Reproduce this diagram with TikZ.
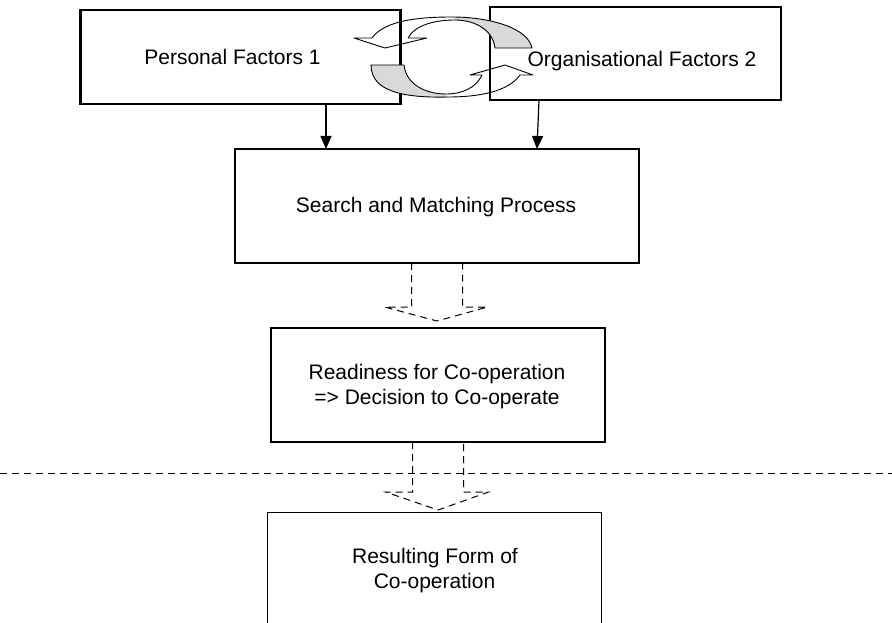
\documentclass[tikz,border=0pt]{standalone}
\usepackage{fontspec}
\setmainfont{Liberation Sans}
\usetikzlibrary{arrows.meta}

\begin{document}
\begin{tikzpicture}[x=1pt,y=-1pt,
  box/.style={draw, line width=2.4pt, inner sep=0pt, outer sep=0pt},
  txt/.style={font=\fontsize{21}{25}\selectfont, inner sep=0pt, anchor=base},
  flow/.style={line width=1.2pt, -{Triangle[width=11pt,length=13pt]}},
  dashline/.style={line width=1pt, dash pattern=on 7pt off 5pt},
  ribbon/.style={line width=0.9pt, line join=round},
  tailshade/.style={fill=gray!30},
  pics/blockdown/.style 2 args={code={
    \draw[dashline] (-25.5,0) -- (-25.5,#1) -- (-52.5,#1) -- (0,#2)
      -- (50.5,#1) -- (25.5,#1) -- (25.5,0) -- cycle;}}
]
\useasboundingbox (0,0) rectangle (892,623);
\fill[white] (0,0) rectangle (892,623);

% boxes
\node[box, minimum width=320pt, minimum height=94pt] (pf) at (240.5,57) {};
\node[box, minimum width=291pt, minimum height=93pt] (of) at (635.5,53.5) {};
\node[box, line width=2.8pt, minimum width=404pt, minimum height=114pt] (smp) at (437,206) {};
\node[box, minimum width=334pt, minimum height=114pt] (rc) at (438,385) {};
\node[inner sep=0pt, outer sep=0pt, minimum width=334pt, minimum height=111pt] (rf) at (434,567.5) {};
\draw[line width=1pt] (rf.south west) -- (rf.north west) -- (rf.north east) -- (rf.south east);

% labels
\node[txt] (pft) at (232.5,65) {Personal Factors 1};
\node[txt] (oft) at (642,67) {Organisational Factors 2};
\node[txt] (smpt) at (436,212.5) {Search and Matching Process};
\node[txt] (rct1) at (437,379) {Readiness for Co-operation};
\node[txt] (rct2) at (437,404) {=> Decision to Co-operate};
\node[txt] (rft1) at (435,563) {Resulting Form of};
\node[txt] (rft2) at (434.5,588) {Co-operation};

% solid connectors into the matching process
\draw[flow] ([xshift=85.5pt]pf.south) -- ([xshift=85.5pt]pf.south |- smp.north);
\draw[flow] ([xshift=-96.5pt]of.south) -- ([xshift=100pt]smp.north);

% dashed block arrows and the divider
\pic at (smp.south) {blockdown={44}{58}};
\pic at (rc.south) {blockdown={50}{68}};
\coordinate (divl) at (0,473);
\coordinate (divr) at (892,473);
\draw[dashline] (divl) -- (divr);

% upper circular arrow: outlined body, shaded tail, head
\fill[tailshade] (452,17) .. controls (490,17) and (528,28) .. (532,48) -- (495,48)
  .. controls (493,30) and (475,20) .. (455,20) -- cycle;
\draw[ribbon] (408,38) -- (427,38) -- (385,48) -- (354,38) -- (372,38);
\draw[ribbon] (372,38) .. controls (385,20) and (420,17) .. (452,17)
  .. controls (490,17) and (528,28) .. (532,48) -- (495,48)
  .. controls (493,30) and (475,20) .. (455,20)
  .. controls (435,20) and (415,25) .. (408,38);

% lower circular arrow
\fill[tailshade] (448,97) .. controls (405,98) and (371,92) .. (371,65) -- (404,65)
  .. controls (406,84) and (425,94) .. (446,94) -- cycle;
\draw[ribbon] (482,75) -- (470,75) -- (505,65) -- (533,75) -- (520,75);
\draw[ribbon] (520,75) .. controls (508,92) and (478,97) .. (448,97)
  .. controls (405,98) and (371,92) .. (371,65) -- (404,65)
  .. controls (406,84) and (425,94) .. (446,94)
  .. controls (462,94) and (476,88) .. (482,75);
\end{tikzpicture}
\end{document}
